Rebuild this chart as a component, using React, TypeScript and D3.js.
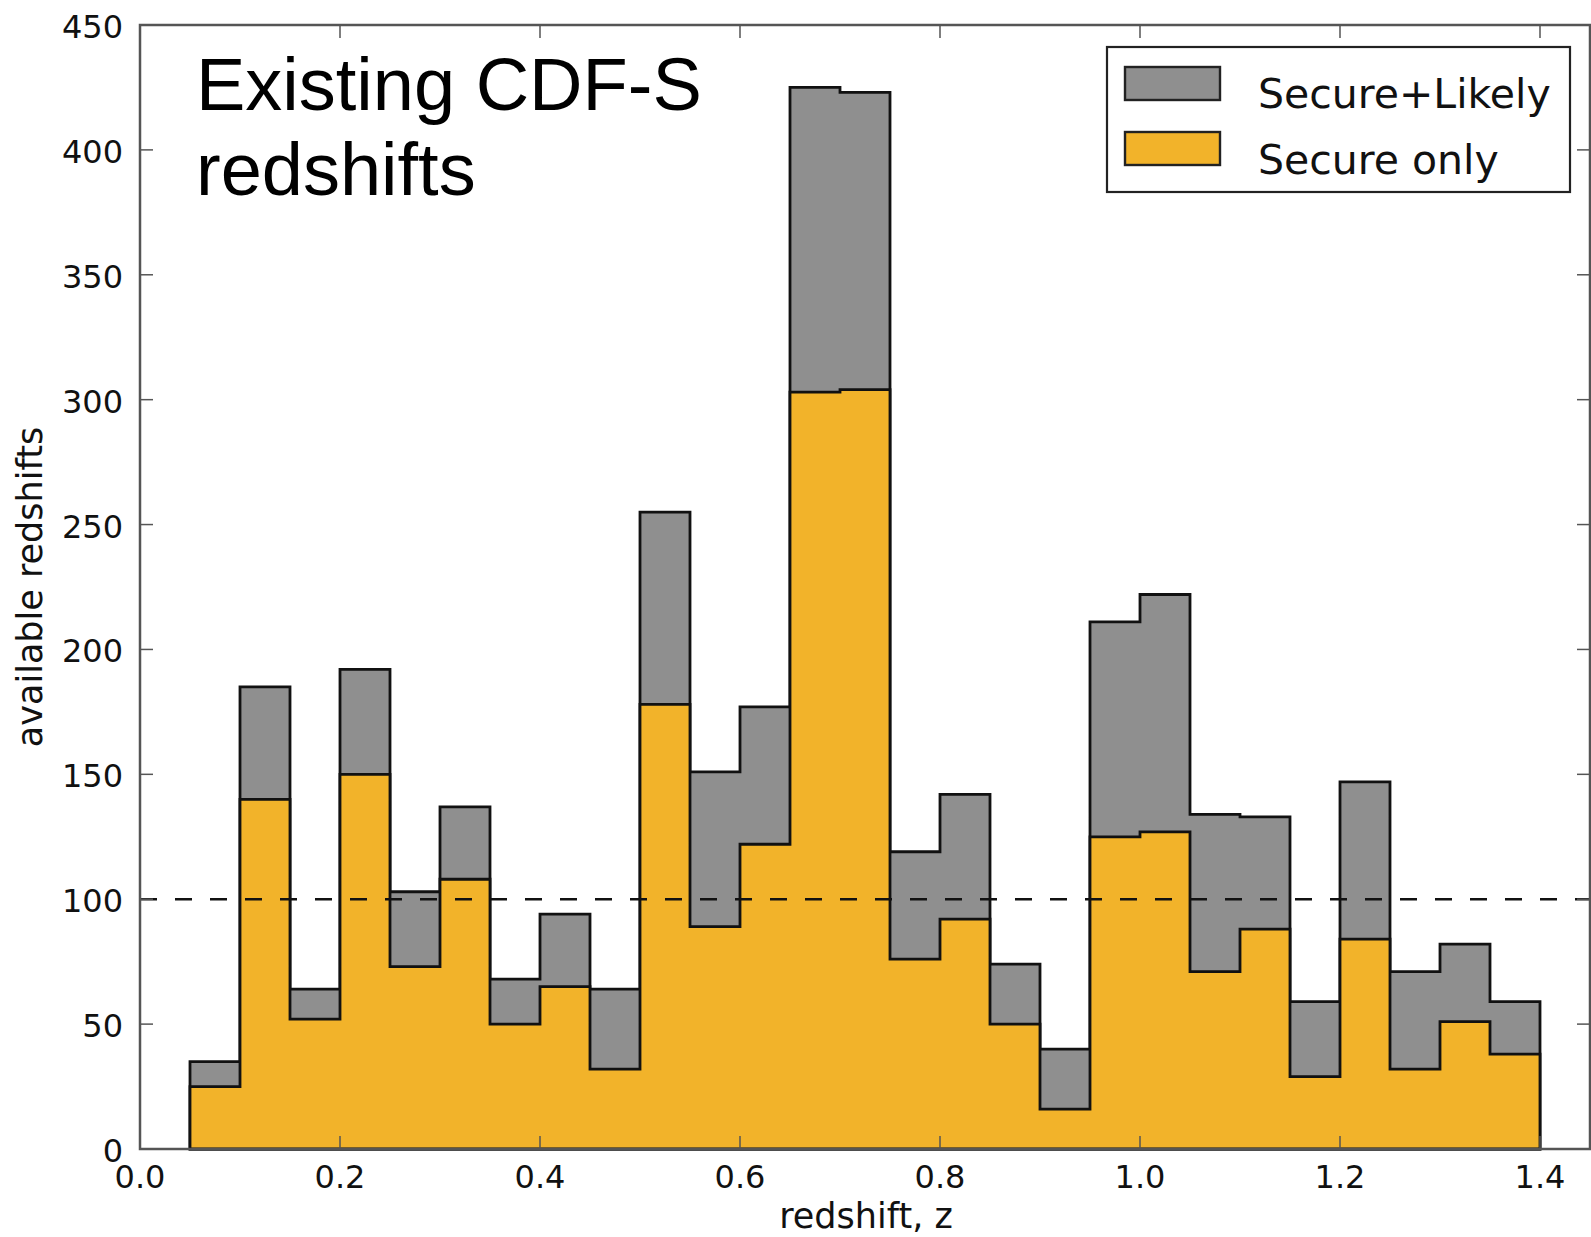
import React from "react";
import * as d3 from "d3";

const binStarts = [0.05,0.10,0.15,0.20,0.25,0.30,0.35,0.40,0.45,0.50,0.55,0.60,0.65,0.70,0.75,0.80,0.85,0.90,0.95,1.00,1.05,1.10,1.15,1.20,1.25,1.30,1.35];
const binWidth = 0.05;
const secureLikely = [35,185,64,192,103,137,68,94,64,255,151,177,425,423,119,142,74,40,211,222,134,133,59,147,71,82,59];
const secureOnly = [25,140,52,150,73,108,50,65,32,178,89,122,303,304,76,92,50,16,125,127,71,88,29,84,32,51,38];
const xTicks = [0.0,0.2,0.4,0.6,0.8,1.0,1.2,1.4];
const yTicks = [0,50,100,150,200,250,300,350,400,450];
const refLine = 100;

const W = 1591, H = 1237;
const L = 140, R = 1590, T = 25, B = 1149;

export default function App() {
  const x = d3.scaleLinear().domain([0, 1.45]).range([L, R]);
  const y = d3.scaleLinear().domain([0, 450]).range([B, T]);

  const stepPath = (vals: number[]) => {
    const pts: [number, number][] = [];
    pts.push([x(binStarts[0]), y(0)]);
    vals.forEach((v, i) => {
      pts.push([x(binStarts[i]), y(v)]);
      pts.push([x(binStarts[i] + binWidth), y(v)]);
    });
    pts.push([x(binStarts[binStarts.length - 1] + binWidth), y(0)]);
    return d3.line()(pts) + "Z";
  };

  const tickFont = "DejaVu Sans, Verdana, sans-serif";
  const spine = "#555";
  const tl = 13;

  return (
    <svg width={W} height={H} style={{ position: "absolute", left: 0, top: 0, background: "#fff" }}>
      <rect x={0} y={0} width={W} height={H} fill="#fff" />
      <path d={stepPath(secureLikely)} fill="#8f8f8f" stroke="#111" strokeWidth={2.8} strokeLinejoin="miter" />
      <path d={stepPath(secureOnly)} fill="#f2b32a" stroke="#111" strokeWidth={2.8} strokeLinejoin="miter" />
      <line x1={L} x2={R} y1={y(refLine)} y2={y(refLine)} stroke="#111" strokeWidth={2.5} strokeDasharray="17,18" />
      {/* ticks */}
      {xTicks.map((t) => (
        <g key={"xt" + t}>
          <line x1={x(t)} x2={x(t)} y1={B} y2={B - tl} stroke={spine} strokeWidth={1.5} />
          <line x1={x(t)} x2={x(t)} y1={T} y2={T + tl} stroke={spine} strokeWidth={1.5} />
          <text x={x(t)} y={1188} textAnchor="middle" fontFamily={tickFont} fontSize={32} fill="#111">{t.toFixed(1)}</text>
        </g>
      ))}
      {yTicks.map((t) => (
        <g key={"yt" + t}>
          <line x1={L} x2={L + tl} y1={y(t)} y2={y(t)} stroke={spine} strokeWidth={1.5} />
          <line x1={R} x2={R - tl} y1={y(t)} y2={y(t)} stroke={spine} strokeWidth={1.5} />
          <text x={L - 17} y={y(t) + 13} textAnchor="end" fontFamily={tickFont} fontSize={32} fill="#111">{t}</text>
        </g>
      ))}
      <rect x={L} y={T} width={R - L} height={B - T} fill="none" stroke={spine} strokeWidth={2.5} />
      <text x={866} y={1228} textAnchor="middle" fontFamily={tickFont} fontSize={35} fill="#111">redshift, z</text>
      <text transform={`translate(42,${(T + B) / 2}) rotate(-90)`} textAnchor="middle" fontFamily={tickFont} fontSize={35} fill="#111">available redshifts</text>
      {/* annotation */}
      <text x={196} y={110} fontFamily="Liberation Sans, Arial, sans-serif" fontSize={74} fill="#000">Existing CDF-S</text>
      <text x={196} y={195} fontFamily="Liberation Sans, Arial, sans-serif" fontSize={74} fill="#000">redshifts</text>
      {/* legend */}
      <rect x={1107} y={47} width={463} height={145} fill="#fff" stroke="#222" strokeWidth={2.2} />
      <rect x={1125} y={67} width={95} height={33} fill="#8f8f8f" stroke="#222" strokeWidth={2.4} />
      <rect x={1125} y={132} width={95} height={33} fill="#f2b32a" stroke="#222" strokeWidth={2.4} />
      <text x={1258} y={108} fontFamily={tickFont} fontSize={41} fill="#111">Secure+Likely</text>
      <text x={1258} y={174} fontFamily={tickFont} fontSize={41} fill="#111">Secure only</text>
    </svg>
  );
}
